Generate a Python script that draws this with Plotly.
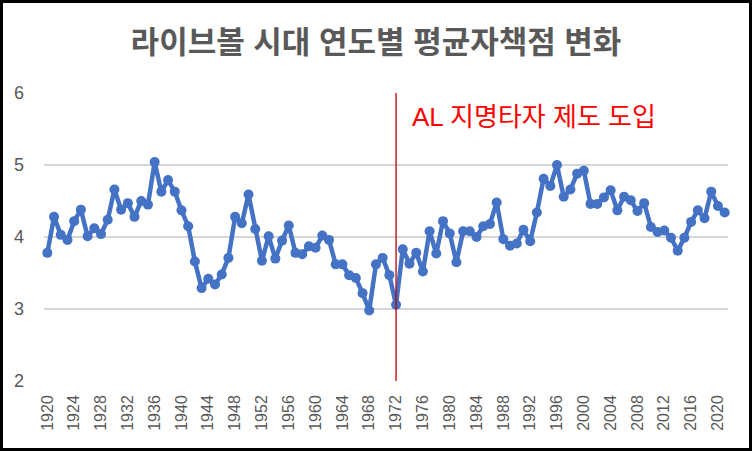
import plotly.graph_objects as go

# 연도 (라이브볼 시대)
years = list(range(1920, 2022))

# 연도별 평균자책점
era = [
    3.78, 4.28, 4.03, 3.96, 4.22, 4.38, 4.01, 4.12, 4.04, 4.24,  # 1920s
    4.66, 4.38, 4.47, 4.28, 4.50, 4.45, 5.04, 4.63, 4.79, 4.63,  # 1930s
    4.37, 4.15, 3.66, 3.29, 3.42, 3.34, 3.48, 3.71, 4.28, 4.19,  # 1940s
    4.59, 4.11, 3.67, 4.01, 3.70, 3.95, 4.16, 3.78, 3.76, 3.87,  # 1950s
    3.85, 4.02, 3.96, 3.62, 3.62, 3.47, 3.43, 3.22, 2.98, 3.62,  # 1960s
    3.71, 3.47, 3.06, 3.83, 3.63, 3.78, 3.52, 4.08, 3.77, 4.22,  # 1970s
    4.05, 3.65, 4.08, 4.08, 4.00, 4.15, 4.18, 4.48, 3.97, 3.88,  # 1980s
    3.91, 4.10, 3.94, 4.34, 4.81, 4.71, 5.00, 4.56, 4.66, 4.88,  # 1990s
    4.92, 4.46, 4.46, 4.55, 4.65, 4.37, 4.56, 4.51, 4.36, 4.47,  # 2000s
    4.14, 4.07, 4.09, 3.99, 3.81, 3.99, 4.21, 4.37, 4.26, 4.63,  # 2010s
    4.43, 4.34,                                                  # 2020s
]

dh_year = 1972
dh_label = "AL 지명타자 제도 도입"
title = "라이브볼 시대 연도별 평균자책점 변화"

FONT = "Arial, Liberation Sans, Noto Sans CJK KR, sans-serif"
GRAY = "#595959"

# plot area in px
L, R, T, B = 44, 24, 93, 70
W, H = 752, 451
pw, ph = W - L - R, H - T - B

fig = go.Figure()
fig.add_trace(go.Scatter(
    x=years, y=era, mode="lines+markers",
    line=dict(color="#4472C4", width=4.5),
    marker=dict(color="#4472C4", size=10),
    cliponaxis=False, showlegend=False,
))

# red line where the DH rule came in
fig.add_shape(type="line", xref="x", yref="y", x0=dh_year, x1=dh_year, y0=2, y1=6,
              line=dict(color="#C00000", width=1.3), layer="above")
fig.add_annotation(x=dh_year, y=6, xref="x", yref="y", xanchor="left", yanchor="middle",
                   xshift=14, yshift=-24, text=dh_label, showarrow=False,
                   font=dict(family=FONT, size=26, color="#FF0000"))

# black frame round the whole chart
fig.add_shape(type="rect", xref="paper", yref="paper",
              x0=(-L + 1.5) / pw, x1=(pw + R - 1.5) / pw,
              y0=(-B + 1.5) / ph, y1=(ph + T - 1.5) / ph,
              line=dict(color="black", width=3))

fig.update_layout(
    width=W, height=H,
    margin=dict(l=L, r=R, t=T, b=B),
    paper_bgcolor="white", plot_bgcolor="white",
    title=dict(text=f"<b>{title}</b>", x=0.5, xanchor="center",
               y=1 - 42 / H, yanchor="middle", yref="container",
               font=dict(family=FONT, size=31, color=GRAY)),
    font=dict(family=FONT, color=GRAY),
)
fig.update_xaxes(range=[1919.5, 2021.5], tick0=1920, dtick=4, tickangle=-90,
                 showgrid=False, zeroline=False, showline=False, ticks="",
                 ticklabelstandoff=10, tickfont=dict(family=FONT, size=16, color=GRAY))
fig.update_yaxes(range=[2, 6], dtick=1, showgrid=True, gridcolor="#D6D6D6", gridwidth=1.5,
                 zeroline=False, showline=False, ticks="", ticklabelstandoff=19,
                 tickfont=dict(family=FONT, size=18, color=GRAY))

# page body has an 8px margin by default; drop it so the chart fills the window
fig.write_html("out.html", config={"displayModeBar": False},
               post_script="document.body.style.margin='0';")
